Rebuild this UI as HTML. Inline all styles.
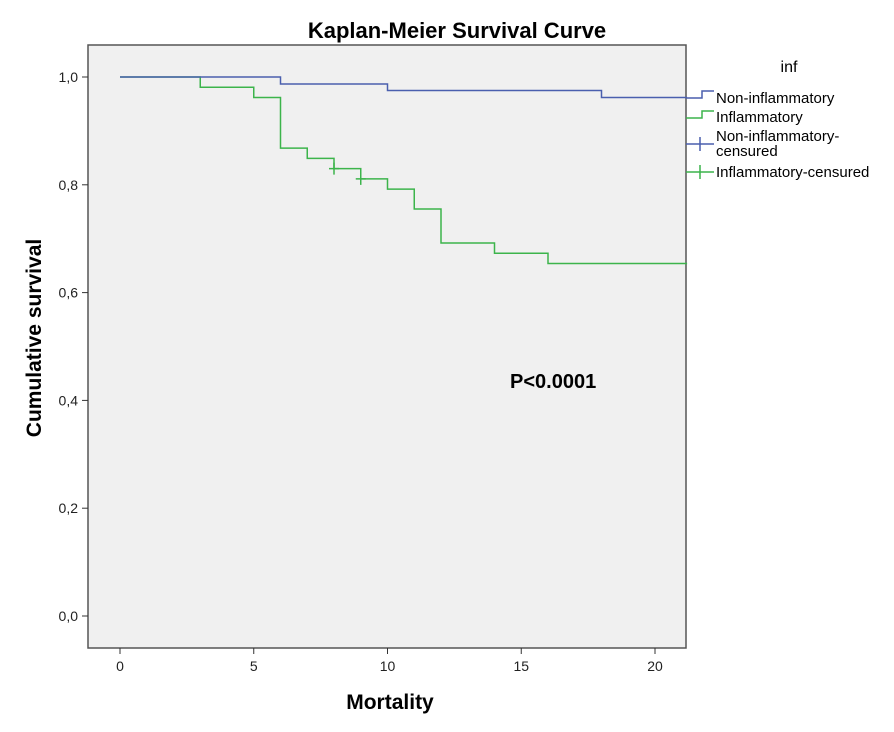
<!DOCTYPE html>
<html><head><meta charset="utf-8"><style>
body{margin:0;background:#fff;width:894px;height:727px;overflow:hidden;font-family:"Liberation Sans",Arial,sans-serif}
svg text{font-family:"Liberation Sans",Arial,sans-serif}
</style></head><body>
<svg id="chart" width="894" height="727" xmlns="http://www.w3.org/2000/svg">
<text x="457" y="38" font-size="22" font-weight="bold" text-anchor="middle">Kaplan-Meier Survival Curve</text>
<rect x="88" y="45" width="598" height="603" fill="#f0f0f0" stroke="#555" stroke-width="1.5"/>
<g id="axes"></g>
<g id="series"></g>
<text x="510" y="388" font-size="20" font-weight="bold">P&lt;0.0001</text>
<text x="390" y="709" font-size="21" font-weight="bold" text-anchor="middle">Mortality</text>
<text transform="translate(41,338) rotate(-90)" font-size="21" font-weight="bold" text-anchor="middle">Cumulative survival</text>
<g font-size="15">
<text x="789" y="72" font-size="16" text-anchor="middle">inf</text>
<g><path d="M686,98 H702 V91 H714" fill="none" stroke="#4a5fae" stroke-width="1.5"/><text x="716" y="103">Non-inflammatory</text></g>
<g><path d="M686,118 H702 V111 H714" fill="none" stroke="#3cb44b" stroke-width="1.5"/><text x="716" y="122">Inflammatory</text></g>
<g><path d="M686,144 H714 M700,137 V151" stroke="#4a5fae" stroke-width="1.5"/><text x="716" y="141">Non-inflammatory-</text><text x="716" y="156">censured</text></g>
<g><path d="M686,172 H714 M700,165 V179" stroke="#3cb44b" stroke-width="1.5"/><text x="716" y="177">Inflammatory-censured</text></g>
</g>
</svg>
<script>
const xTicks=[0,5,10,15,20];
const yTicks=[0,0.2,0.4,0.6,0.8,1.0];
const yTickLabels=["0,0","0,2","0,4","0,6","0,8","1,0"];
const nonInfTimes=[0,6,10,18,21.2];
const nonInfSurv=[1.0,0.987,0.975,0.962,0.962];
const infTimes=[0,3,5,6,7,8,9,10,11,12,14,16,21.2];
const infSurv=[1.0,0.981,0.962,0.868,0.849,0.830,0.811,0.792,0.755,0.692,0.673,0.654,0.654];
const infCensorTimes=[8,9];
const infCensorSurv=[0.830,0.811];
const X=v=>120+v*26.75;
const Y=v=>616-v*539;
const NS="http://www.w3.org/2000/svg";
const axes=document.getElementById('axes'),series=document.getElementById('series');
function mk(t,a,p){const e=document.createElementNS(NS,t);for(const k in a)e.setAttribute(k,a[k]);p.appendChild(e);return e;}
xTicks.forEach(v=>{
 const l=mk('line',{x1:X(v),x2:X(v),y1:648,y2:654,stroke:'#333'},axes);
 
 
 const t=mk('text',{x:X(v),y:671,'font-size':14,'text-anchor':'middle',fill:'#222'},axes);t.textContent=v;
 
 
});
yTicks.forEach((v,i)=>{
 const l=mk('line',{x1:82,x2:88,y1:Y(v),y2:Y(v),stroke:'#333'},axes);
 
 
 const t=mk('text',{x:78,y:Y(v)+5,'font-size':14,'text-anchor':'end',fill:'#222'},axes);t.textContent=yTickLabels[i];
 
 
});
function stepPath(ts,ss){let d=`M${X(ts[0])},${Y(ss[0])}`;for(let i=1;i<ts.length;i++){d+=` H${X(ts[i])} V${Y(ss[i])}`;}return d;}
const g=mk('path',{d:stepPath(infTimes,infSurv),fill:'none',stroke:'#3cb44b','stroke-width':1.5},series);


const b=mk('path',{d:stepPath(nonInfTimes,nonInfSurv),fill:'none',stroke:'#4a5fae','stroke-width':1.5},series);


infCensorTimes.forEach((t,i)=>{
 const c=mk('path',{d:`M${X(t)-5},${Y(infCensorSurv[i])} h10 M${X(t)},${Y(infCensorSurv[i])-6} v12`,stroke:'#3cb44b','stroke-width':1.5},series);
 
 
});
</script>
</body></html>
